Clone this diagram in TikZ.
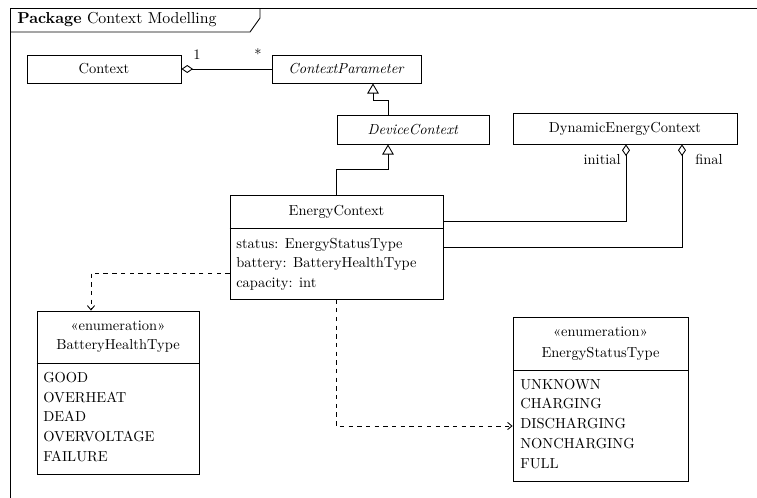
\documentclass[tikz,border=0pt]{standalone}
\usetikzlibrary{arrows.meta,fit}
\begin{document}
\begin{tikzpicture}[x=0.69pt,y=-0.69pt]
\tikzset{
  ln/.style={line width=0.6pt},
  box/.style={draw, line width=0.6pt, inner sep=0pt},
  gen/.style={ln, -{Triangle[open,length=7pt,width=8pt]}},
  agg/.style={ln, {Diamond[open,length=8pt,width=5.5pt]}-},
  dep/.style={ln, dashed, -{Straight Barb[length=3pt,width=5pt]}},
  txt/.style={inner sep=0pt, anchor=base west},
  ctxt/.style={inner sep=0pt},
}
\useasboundingbox (0,0) rectangle (757,497);
\clip (0,0) rectangle (757,497);
% frame
\draw[ln] (10,520) -- (10,8) -- (780,8);
\draw[ln] (10,32) -- (250,32) -- (260,18) -- (260,8);
\node[txt, font=\fontsize{10.95}{13}\selectfont] (title) at (17,24) {\textbf{Package} Context Modelling};
% classes
\node[box, fit={(27,55)(181,83)}] (ctx) {};
\node[ctxt] (ctxl) at (ctx.center) {Context};
\node[box, fit={(272,55)(421,83)}] (cp) {};
\node[ctxt] (cpl) at (cp.center) {\textit{ContextParameter}};
\node[box, fit={(337,115)(489,144)}] (dc) {};
\node[ctxt] (dcl) at (dc.center) {\textit{DeviceContext}};
\node[box, fit={(513,113)(737,144)}] (dec) {};
\node[ctxt] (decl) at (dec.center) {DynamicEnergyContext};
\node[box, fit={(230,195)(443,299)}] (ec) {};
\node[ctxt] (ecl) at (336.5,211.5) {EnergyContext};
\draw[ln] (ec.west |- 0,228) -- (ec.east |- 0,228);
\node[txt] (eca1) at (236,248) {status: EnergyStatusType};
\node[txt] (eca2) at (236,267.5) {battery: BatteryHealthType};
\node[txt] (eca3) at (236,287) {capacity: int};
% BatteryHealthType
\node[box, fit={(37,311)(199,474)}] (bht) {};
\node[ctxt, anchor=base] (bhts) at (118,330) {«enumeration»};
\node[ctxt, anchor=base] (bhtn) at (118,349) {BatteryHealthType};
\draw[ln] (bht.west |- 0,363) -- (bht.east |- 0,363);
\node[txt] (b1) at (43,382) {GOOD};
\node[txt] (b2) at (43,402) {OVERHEAT};
\node[txt] (b3) at (43,421) {DEAD};
\node[txt] (b4) at (43,441) {OVERVOLTAGE};
\node[txt] (b5) at (43,461) {FAILURE};
% EnergyStatusType
\node[box, fit={(513,317)(688,481)}] (est) {};
\node[ctxt, anchor=base] (ests) at (600.5,336) {«enumeration»};
\node[ctxt, anchor=base] (estn) at (600.5,357) {EnergyStatusType};
\draw[ln] (est.west |- 0,370) -- (est.east |- 0,370);
\node[txt] (e1) at (520,389) {UNKNOWN};
\node[txt] (e2) at (520,408.5) {CHARGING};
\node[txt] (e3) at (520,428) {DISCHARGING};
\node[txt] (e4) at (520,448) {NONCHARGING};
\node[txt] (e5) at (520,468) {FULL};
% connectors
\draw[agg] (ctx.east) -- (cp.west);
\node[ctxt, anchor=base] (m1) at (197,59) {1};
\node[ctxt, anchor=base] (m2) at (258,59) {*};
\draw[gen] (dc.north -| 388,0) -- (388,100) -- (373,100) -- (cp.south -| 373,0);
\draw[gen] (ec.north -| 336,0) -- (336,169) -- (388,169) -- (dc.south -| 388,0);
\draw[agg] (dec.south -| 626,0) -- (626,221) -- (ec.east |- 0,221);
\draw[agg] (dec.south -| 682,0) -- (682,247) -- (ec.east |- 0,247);
\node[ctxt, anchor=base east] (li) at (621,164) {initial};
\node[ctxt, anchor=base west] (lf) at (695,164) {final};
\draw[dep] (ec.west |- 0,273) -- (91,273) -- (bht.north -| 91,0);
\draw[dep] (ec.south -| 336,0) -- (336,426) -- (est.west |- 0,426);
\end{tikzpicture}
\end{document}
